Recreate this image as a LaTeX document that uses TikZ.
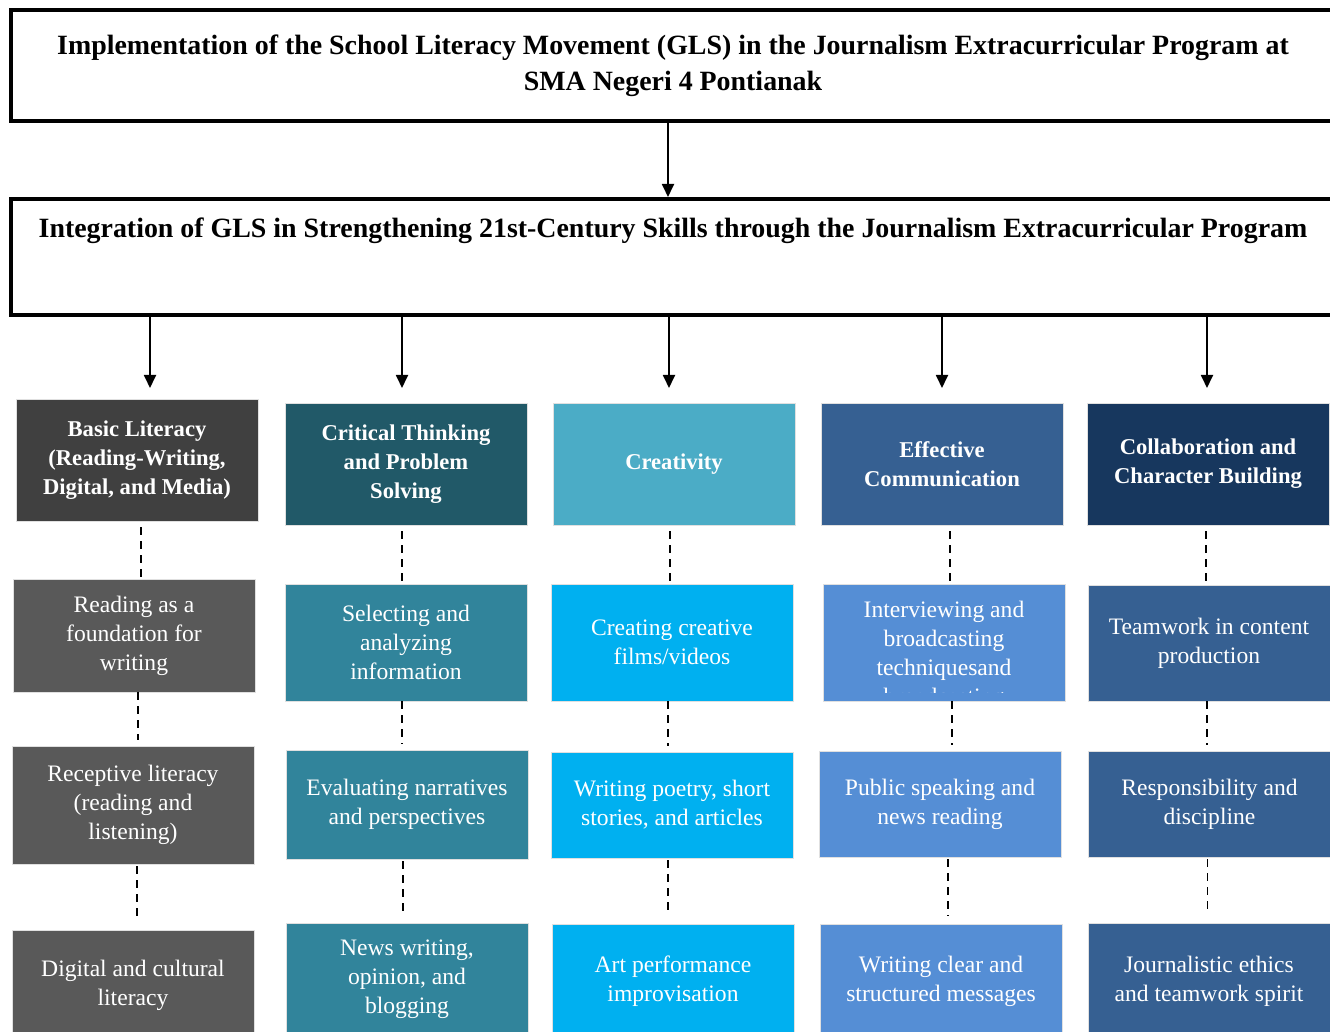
\documentclass[tikz,border=0pt]{standalone}
\usepackage{fontspec}
\setmainfont{Liberation Serif}
\usetikzlibrary{arrows.meta}

\definecolor{headA}{HTML}{404040}
\definecolor{cellA}{HTML}{595959}
\definecolor{headB}{HTML}{215968}
\definecolor{cellB}{HTML}{31849B}
\definecolor{headC}{HTML}{4BACC6}
\definecolor{cellC}{HTML}{00B0F0}
\definecolor{headD}{HTML}{366092}
\definecolor{cellD}{HTML}{558ED5}
\definecolor{headE}{HTML}{17375E}
\definecolor{cellE}{HTML}{366092}

\begin{document}
\begin{tikzpicture}[x=0.5pt, y=-0.5pt,
    topbox/.style={draw, line width=2pt, minimum width=662pt, inner sep=0pt},
    toptext/.style={align=center, font=\fontsize{13.95}{18}\selectfont\bfseries},
    cell/.style={minimum width=121pt, inner sep=0pt, draw=black!12, line width=0.4pt,
      text=white, align=center, font=\fontsize{11.8}{14.5}\selectfont},
    head/.style={cell, font=\fontsize{11.3}{14.5}\selectfont\bfseries},
    arr/.style={-{Triangle[width=6pt,length=6.5pt]}, line width=0.9pt},
    link/.style={dash pattern=on 4pt off 3pt, line width=0.9pt}]
  \useasboundingbox (0,0) rectangle (1330,1032);
  \clip (0,0) rectangle (1330,1032);

  % the two wide boxes
  \node[topbox, minimum height=55.5pt, toptext] (title) at (673,66)
    {Implementation of the School Literacy Movement (GLS) in the Journalism Extracurricular Program at\\
     SMA Negeri 4 Pontianak};
  \node[topbox, minimum height=58pt] (integ) at (673,257) {};
  \node[toptext] (integtxt) at (673,231)
    {Integration of GLS in Strengthening 21st-Century Skills through the Journalism Extracurricular Program};
  \coordinate (a0) at (668,196);
  \draw[arr] (title.south -| a0) -- (integ.north -| a0);

  % skills
  \node[head, fill=headA, minimum height=61pt] (h1) at (137,460)
    {Basic Literacy\\(Reading-Writing,\\Digital, and Media)};
  \node[head, fill=headB, minimum height=61pt] (h2) at (406,464)
    {Critical Thinking\\and Problem\\Solving};
  \node[head, fill=headC, minimum height=61pt] (h3) at (674,464) {Creativity};
  \node[head, fill=headD, minimum height=61pt] (h4) at (942,464)
    {Effective\\Communication};
  \node[head, fill=headE, minimum height=61pt] (h5) at (1208,464)
    {Collaboration and\\Character Building};

  \coordinate (a1) at (150,388);
  \coordinate (a2) at (402,388);
  \coordinate (a3) at (669,388);
  \coordinate (a4) at (942,388);
  \coordinate (a5) at (1207,388);
  \foreach \i in {1,...,5} { \draw[arr] (integ.south -| a\i) -- (a\i); }

  % activities
  \node[cell, fill=cellA, minimum height=56.5pt] (r21) at (134,635.5)
    {Reading as a\\foundation for\\writing};
  \node[cell, fill=cellB, minimum height=58.5pt] (r22) at (406,642.5)
    {Selecting and\\analyzing\\information};
  \node[cell, fill=cellC, minimum height=58.5pt] (r23) at (672,642.5)
    {Creating creative\\films/videos};
  \node[cell, fill=cellD, minimum height=58.5pt] (r24) at (944,642.5) {};
  \begin{scope}
    \clip ([yshift=4.5pt]r24.south west) rectangle (r24.north east);
    \node[cell, draw=none] (r24txt) at ([yshift=-6.5pt]r24.center)
      {Interviewing and\\broadcasting\\techniquesand\\broadcasting};
  \end{scope}
  \node[cell, fill=cellE, minimum height=58pt] (r25) at (1209,643)
    {Teamwork in content\\production};

  \node[cell, fill=cellA, minimum height=59pt] (r31) at (133,805)
    {Receptive literacy\\(reading and\\listening)};
  \node[cell, fill=cellB, minimum height=54.5pt] (r32) at (407,804.5)
    {Evaluating narratives\\and perspectives};
  \node[cell, fill=cellC, minimum height=53pt] (r33) at (672,805)
    {Writing poetry, short\\stories, and articles};
  \node[cell, fill=cellD, minimum height=53pt] (r34) at (940,804)
    {Public speaking and\\news reading};
  \node[cell, fill=cellE, minimum height=53pt] (r35) at (1209.5,804)
    {Responsibility and\\discipline};

  \node[cell, fill=cellA, minimum height=55pt] (r41) at (133,985)
    {Digital and cultural\\literacy};
  \node[cell, fill=cellB, minimum height=56pt] (r42) at (407,979)
    {News writing,\\opinion, and\\blogging};
  \node[cell, fill=cellC, minimum height=57.5pt] (r43) at (673,981.5)
    {Art performance\\improvisation};
  \node[cell, fill=cellD, minimum height=57.5pt] (r44) at (941,981.5)
    {Writing clear and\\structured messages};
  \node[cell, fill=cellE, minimum height=58.5pt] (r45) at (1209,981.5)
    {Journalistic ethics\\and teamwork spirit};

  % dashed links down each column
  \foreach \i/\dx in {1/2,2/-2,3/-2,4/4,5/-1} {
    \draw[link, shorten <=3pt, shorten >=1pt] ([xshift=\dx pt]h\i.south)
      -- ([xshift=\dx pt]h\i.south |- r2\i.north);
    \draw[link, shorten >=3pt] ([xshift=\dx pt]r2\i.south)
      -- ([xshift=\dx pt]r2\i.south |- r3\i.north);
    \draw[link, shorten <=1pt, shorten >=4pt] ([xshift=\dx pt]r3\i.south)
      -- ([xshift=\dx pt]r3\i.south |- r4\i.north);
  }
\end{tikzpicture}
\end{document}
